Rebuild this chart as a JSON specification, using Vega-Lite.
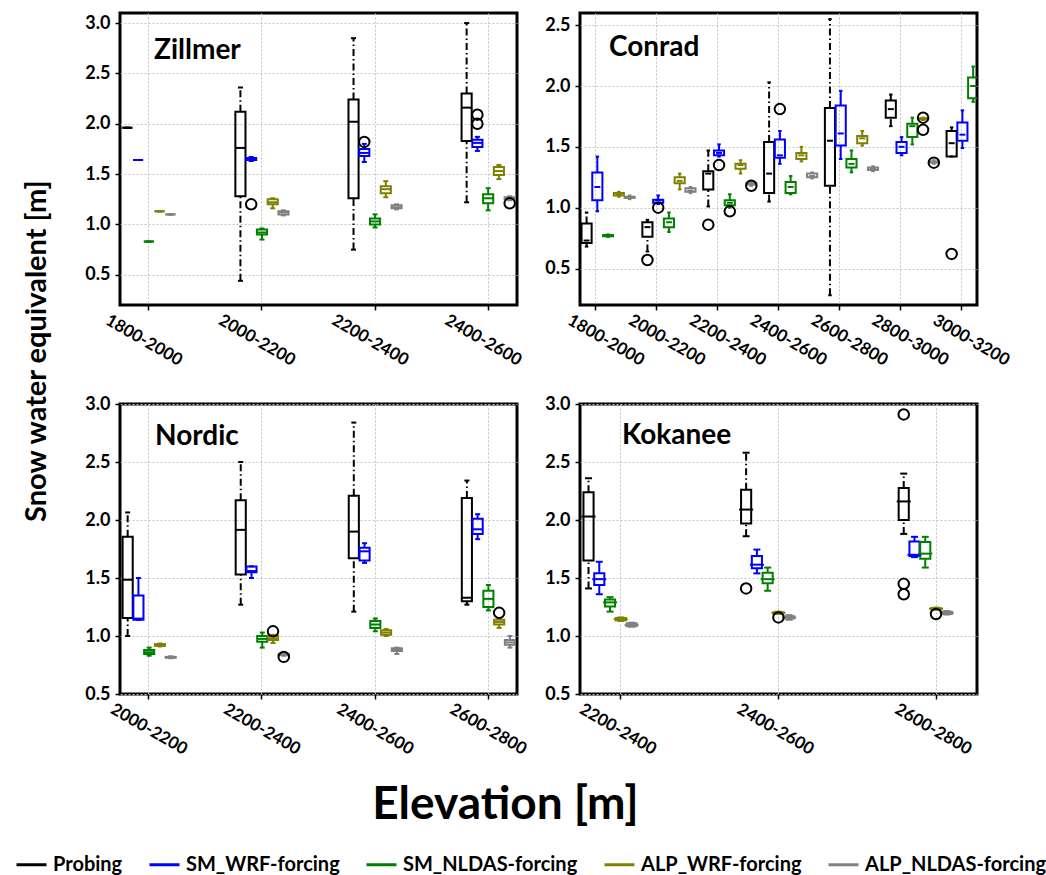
{
  "$schema": "https://vega.github.io/schema/vega-lite/v6.json",
  "padding": {"left": 15, "top": 11, "right": 0, "bottom": 0},
  "background": "white",
  "datasets": {
    "boxes": [
      {"site": "Zillmer", "band": "1800-2000", "series": "Probing", "lo": 1.96, "q1": 1.96, "med": 1.96, "q3": 1.96, "hi": 1.96},
      {"site": "Zillmer", "band": "1800-2000", "series": "SM_WRF-forcing", "lo": 1.64, "q1": 1.64, "med": 1.64, "q3": 1.64, "hi": 1.64},
      {"site": "Zillmer", "band": "1800-2000", "series": "SM_NLDAS-forcing", "lo": 0.83, "q1": 0.83, "med": 0.83, "q3": 0.83, "hi": 0.83},
      {"site": "Zillmer", "band": "1800-2000", "series": "ALP_WRF-forcing", "lo": 1.13, "q1": 1.13, "med": 1.13, "q3": 1.13, "hi": 1.13},
      {"site": "Zillmer", "band": "1800-2000", "series": "ALP_NLDAS-forcing", "lo": 1.1, "q1": 1.1, "med": 1.1, "q3": 1.1, "hi": 1.1},
      {"site": "Zillmer", "band": "2000-2200", "series": "Probing", "lo": 0.44, "q1": 1.28, "med": 1.76, "q3": 2.12, "hi": 2.36},
      {"site": "Zillmer", "band": "2000-2200", "series": "SM_WRF-forcing", "lo": 1.63, "q1": 1.64, "med": 1.65, "q3": 1.66, "hi": 1.67},
      {"site": "Zillmer", "band": "2000-2200", "series": "SM_NLDAS-forcing", "lo": 0.85, "q1": 0.9, "med": 0.92, "q3": 0.95, "hi": 0.96},
      {"site": "Zillmer", "band": "2000-2200", "series": "ALP_WRF-forcing", "lo": 1.16, "q1": 1.2, "med": 1.22, "q3": 1.25, "hi": 1.26},
      {"site": "Zillmer", "band": "2000-2200", "series": "ALP_NLDAS-forcing", "lo": 1.09, "q1": 1.1, "med": 1.12, "q3": 1.13, "hi": 1.14},
      {"site": "Zillmer", "band": "2200-2400", "series": "Probing", "lo": 0.75, "q1": 1.26, "med": 2.02, "q3": 2.24, "hi": 2.85},
      {"site": "Zillmer", "band": "2200-2400", "series": "SM_WRF-forcing", "lo": 1.62, "q1": 1.68, "med": 1.71, "q3": 1.75, "hi": 1.8},
      {"site": "Zillmer", "band": "2200-2400", "series": "SM_NLDAS-forcing", "lo": 0.97, "q1": 1.0, "med": 1.03, "q3": 1.06, "hi": 1.1},
      {"site": "Zillmer", "band": "2200-2400", "series": "ALP_WRF-forcing", "lo": 1.27, "q1": 1.31, "med": 1.35, "q3": 1.38, "hi": 1.43},
      {"site": "Zillmer", "band": "2200-2400", "series": "ALP_NLDAS-forcing", "lo": 1.15, "q1": 1.16, "med": 1.17, "q3": 1.19, "hi": 1.2},
      {"site": "Zillmer", "band": "2400-2600", "series": "Probing", "lo": 1.22, "q1": 1.83, "med": 2.16, "q3": 2.3, "hi": 3.0},
      {"site": "Zillmer", "band": "2400-2600", "series": "SM_WRF-forcing", "lo": 1.73, "q1": 1.77, "med": 1.81, "q3": 1.84, "hi": 1.87},
      {"site": "Zillmer", "band": "2400-2600", "series": "SM_NLDAS-forcing", "lo": 1.14, "q1": 1.21, "med": 1.26, "q3": 1.3, "hi": 1.36},
      {"site": "Zillmer", "band": "2400-2600", "series": "ALP_WRF-forcing", "lo": 1.45, "q1": 1.49, "med": 1.53, "q3": 1.57, "hi": 1.59},
      {"site": "Zillmer", "band": "2400-2600", "series": "ALP_NLDAS-forcing", "lo": 1.24, "q1": 1.25, "med": 1.26, "q3": 1.27, "hi": 1.28},

      {"site": "Conrad", "band": "1800-2000", "series": "Probing", "lo": 0.68, "q1": 0.71, "med": 0.73, "q3": 0.87, "hi": 0.96},
      {"site": "Conrad", "band": "1800-2000", "series": "SM_WRF-forcing", "lo": 0.97, "q1": 1.06, "med": 1.17, "q3": 1.29, "hi": 1.42},
      {"site": "Conrad", "band": "1800-2000", "series": "SM_NLDAS-forcing", "lo": 0.76, "q1": 0.765, "med": 0.77, "q3": 0.775, "hi": 0.78},
      {"site": "Conrad", "band": "1800-2000", "series": "ALP_WRF-forcing", "lo": 1.09, "q1": 1.1, "med": 1.11, "q3": 1.12, "hi": 1.13},
      {"site": "Conrad", "band": "1800-2000", "series": "ALP_NLDAS-forcing", "lo": 1.07, "q1": 1.08, "med": 1.085, "q3": 1.09, "hi": 1.1},
      {"site": "Conrad", "band": "2000-2200", "series": "Probing", "lo": 0.64, "q1": 0.76, "med": 0.84, "q3": 0.88, "hi": 0.9},
      {"site": "Conrad", "band": "2000-2200", "series": "SM_WRF-forcing", "lo": 1.03, "q1": 1.04, "med": 1.06, "q3": 1.065, "hi": 1.1},
      {"site": "Conrad", "band": "2000-2200", "series": "SM_NLDAS-forcing", "lo": 0.8, "q1": 0.84, "med": 0.88, "q3": 0.91, "hi": 0.96},
      {"site": "Conrad", "band": "2000-2200", "series": "ALP_WRF-forcing", "lo": 1.15, "q1": 1.2, "med": 1.22, "q3": 1.25, "hi": 1.28},
      {"site": "Conrad", "band": "2000-2200", "series": "ALP_NLDAS-forcing", "lo": 1.12, "q1": 1.13, "med": 1.14, "q3": 1.16, "hi": 1.17},
      {"site": "Conrad", "band": "2200-2400", "series": "Probing", "lo": 1.01, "q1": 1.15, "med": 1.28, "q3": 1.3, "hi": 1.47},
      {"site": "Conrad", "band": "2200-2400", "series": "SM_WRF-forcing", "lo": 1.42, "q1": 1.43, "med": 1.45, "q3": 1.47, "hi": 1.52},
      {"site": "Conrad", "band": "2200-2400", "series": "SM_NLDAS-forcing", "lo": 1.0, "q1": 1.02, "med": 1.04, "q3": 1.06, "hi": 1.11},
      {"site": "Conrad", "band": "2200-2400", "series": "ALP_WRF-forcing", "lo": 1.28, "q1": 1.32, "med": 1.35, "q3": 1.36, "hi": 1.39},
      {"site": "Conrad", "band": "2200-2400", "series": "ALP_NLDAS-forcing", "lo": 1.18, "q1": 1.19, "med": 1.195, "q3": 1.2, "hi": 1.21},
      {"site": "Conrad", "band": "2400-2600", "series": "Probing", "lo": 1.05, "q1": 1.12, "med": 1.28, "q3": 1.54, "hi": 2.03},
      {"site": "Conrad", "band": "2400-2600", "series": "SM_WRF-forcing", "lo": 1.36, "q1": 1.41, "med": 1.43, "q3": 1.56, "hi": 1.63},
      {"site": "Conrad", "band": "2400-2600", "series": "SM_NLDAS-forcing", "lo": 1.11, "q1": 1.12, "med": 1.17, "q3": 1.21, "hi": 1.26},
      {"site": "Conrad", "band": "2400-2600", "series": "ALP_WRF-forcing", "lo": 1.38, "q1": 1.4, "med": 1.43, "q3": 1.45, "hi": 1.5},
      {"site": "Conrad", "band": "2400-2600", "series": "ALP_NLDAS-forcing", "lo": 1.24, "q1": 1.25, "med": 1.26, "q3": 1.28, "hi": 1.29},
      {"site": "Conrad", "band": "2600-2800", "series": "Probing", "lo": 0.28, "q1": 1.18, "med": 1.55, "q3": 1.82, "hi": 2.55},
      {"site": "Conrad", "band": "2600-2800", "series": "SM_WRF-forcing", "lo": 1.4, "q1": 1.51, "med": 1.61, "q3": 1.84, "hi": 1.96},
      {"site": "Conrad", "band": "2600-2800", "series": "SM_NLDAS-forcing", "lo": 1.29, "q1": 1.33, "med": 1.36, "q3": 1.4, "hi": 1.47},
      {"site": "Conrad", "band": "2600-2800", "series": "ALP_WRF-forcing", "lo": 1.51, "q1": 1.53, "med": 1.57, "q3": 1.59, "hi": 1.63},
      {"site": "Conrad", "band": "2600-2800", "series": "ALP_NLDAS-forcing", "lo": 1.3, "q1": 1.31, "med": 1.32, "q3": 1.33, "hi": 1.34},
      {"site": "Conrad", "band": "2800-3000", "series": "Probing", "lo": 1.67, "q1": 1.74, "med": 1.81, "q3": 1.88, "hi": 1.93},
      {"site": "Conrad", "band": "2800-3000", "series": "SM_WRF-forcing", "lo": 1.43, "q1": 1.45, "med": 1.5, "q3": 1.54, "hi": 1.58},
      {"site": "Conrad", "band": "2800-3000", "series": "SM_NLDAS-forcing", "lo": 1.52, "q1": 1.58, "med": 1.67, "q3": 1.69, "hi": 1.74},
      {"site": "Conrad", "band": "2800-3000", "series": "ALP_WRF-forcing", "lo": 1.72, "q1": 1.725, "med": 1.73, "q3": 1.735, "hi": 1.74},
      {"site": "Conrad", "band": "2800-3000", "series": "ALP_NLDAS-forcing", "lo": 1.36, "q1": 1.37, "med": 1.375, "q3": 1.38, "hi": 1.39},
      {"site": "Conrad", "band": "3000-3200", "series": "Probing", "lo": 1.42, "q1": 1.42, "med": 1.53, "q3": 1.63, "hi": 1.66},
      {"site": "Conrad", "band": "3000-3200", "series": "SM_WRF-forcing", "lo": 1.49, "q1": 1.55, "med": 1.6, "q3": 1.7, "hi": 1.8},
      {"site": "Conrad", "band": "3000-3200", "series": "SM_NLDAS-forcing", "lo": 1.87, "q1": 1.9, "med": 2.0, "q3": 2.07, "hi": 2.16},
      {"site": "Conrad", "band": "3000-3200", "series": "ALP_WRF-forcing", "lo": 1.87, "q1": 1.87, "med": 1.87, "q3": 1.87, "hi": 1.87},
      {"site": "Conrad", "band": "3000-3200", "series": "ALP_NLDAS-forcing", "lo": 1.45, "q1": 1.46, "med": 1.47, "q3": 1.475, "hi": 1.48},

      {"site": "Nordic", "band": "2000-2200", "series": "Probing", "lo": 1.0, "q1": 1.155, "med": 1.485, "q3": 1.855, "hi": 2.065},
      {"site": "Nordic", "band": "2000-2200", "series": "SM_WRF-forcing", "lo": 1.14, "q1": 1.14, "med": 1.15, "q3": 1.35, "hi": 1.5},
      {"site": "Nordic", "band": "2000-2200", "series": "SM_NLDAS-forcing", "lo": 0.83, "q1": 0.845, "med": 0.86, "q3": 0.88, "hi": 0.9},
      {"site": "Nordic", "band": "2000-2200", "series": "ALP_WRF-forcing", "lo": 0.91, "q1": 0.915, "med": 0.922, "q3": 0.93, "hi": 0.935},
      {"site": "Nordic", "band": "2000-2200", "series": "ALP_NLDAS-forcing", "lo": 0.808, "q1": 0.812, "med": 0.816, "q3": 0.82, "hi": 0.825},
      {"site": "Nordic", "band": "2200-2400", "series": "Probing", "lo": 1.27, "q1": 1.53, "med": 1.915, "q3": 2.17, "hi": 2.5},
      {"site": "Nordic", "band": "2200-2400", "series": "SM_WRF-forcing", "lo": 1.5, "q1": 1.55, "med": 1.56, "q3": 1.6, "hi": 1.6},
      {"site": "Nordic", "band": "2200-2400", "series": "SM_NLDAS-forcing", "lo": 0.9, "q1": 0.95, "med": 0.975, "q3": 1.0, "hi": 1.03},
      {"site": "Nordic", "band": "2200-2400", "series": "ALP_WRF-forcing", "lo": 0.94, "q1": 0.965, "med": 0.98, "q3": 1.0, "hi": 1.01},
      {"site": "Nordic", "band": "2200-2400", "series": "ALP_NLDAS-forcing", "lo": 0.83, "q1": 0.835, "med": 0.84, "q3": 0.845, "hi": 0.85},
      {"site": "Nordic", "band": "2400-2600", "series": "Probing", "lo": 1.21, "q1": 1.67, "med": 1.9, "q3": 2.21, "hi": 2.84},
      {"site": "Nordic", "band": "2400-2600", "series": "SM_WRF-forcing", "lo": 1.63, "q1": 1.65, "med": 1.73, "q3": 1.76, "hi": 1.8},
      {"site": "Nordic", "band": "2400-2600", "series": "SM_NLDAS-forcing", "lo": 1.04, "q1": 1.07, "med": 1.1, "q3": 1.13, "hi": 1.15},
      {"site": "Nordic", "band": "2400-2600", "series": "ALP_WRF-forcing", "lo": 1.0, "q1": 1.01, "med": 1.03, "q3": 1.05, "hi": 1.06},
      {"site": "Nordic", "band": "2400-2600", "series": "ALP_NLDAS-forcing", "lo": 0.845, "q1": 0.87, "med": 0.88, "q3": 0.895, "hi": 0.9},
      {"site": "Nordic", "band": "2600-2800", "series": "Probing", "lo": 1.27, "q1": 1.3, "med": 1.33, "q3": 2.19, "hi": 2.34},
      {"site": "Nordic", "band": "2600-2800", "series": "SM_WRF-forcing", "lo": 1.835, "q1": 1.88, "med": 1.92, "q3": 2.01, "hi": 2.05},
      {"site": "Nordic", "band": "2600-2800", "series": "SM_NLDAS-forcing", "lo": 1.22, "q1": 1.25, "med": 1.32, "q3": 1.39, "hi": 1.44},
      {"site": "Nordic", "band": "2600-2800", "series": "ALP_WRF-forcing", "lo": 1.07, "q1": 1.1, "med": 1.12, "q3": 1.14, "hi": 1.15},
      {"site": "Nordic", "band": "2600-2800", "series": "ALP_NLDAS-forcing", "lo": 0.9, "q1": 0.925, "med": 0.945, "q3": 0.965, "hi": 1.0},

      {"site": "Kokanee", "band": "2200-2400", "series": "Probing", "lo": 1.41, "q1": 1.65, "med": 2.03, "q3": 2.24, "hi": 2.36},
      {"site": "Kokanee", "band": "2200-2400", "series": "SM_WRF-forcing", "lo": 1.36, "q1": 1.44, "med": 1.49, "q3": 1.54, "hi": 1.64},
      {"site": "Kokanee", "band": "2200-2400", "series": "SM_NLDAS-forcing", "lo": 1.21, "q1": 1.255, "med": 1.29, "q3": 1.315, "hi": 1.335},
      {"site": "Kokanee", "band": "2200-2400", "series": "ALP_WRF-forcing", "lo": 1.13, "q1": 1.135, "med": 1.145, "q3": 1.155, "hi": 1.16},
      {"site": "Kokanee", "band": "2200-2400", "series": "ALP_NLDAS-forcing", "lo": 1.08, "q1": 1.085, "med": 1.095, "q3": 1.11, "hi": 1.115},
      {"site": "Kokanee", "band": "2400-2600", "series": "Probing", "lo": 1.86, "q1": 1.97, "med": 2.09, "q3": 2.26, "hi": 2.58},
      {"site": "Kokanee", "band": "2400-2600", "series": "SM_WRF-forcing", "lo": 1.54, "q1": 1.585, "med": 1.615, "q3": 1.69, "hi": 1.745},
      {"site": "Kokanee", "band": "2400-2600", "series": "SM_NLDAS-forcing", "lo": 1.39, "q1": 1.455, "med": 1.49, "q3": 1.545, "hi": 1.59},
      {"site": "Kokanee", "band": "2400-2600", "series": "ALP_WRF-forcing", "lo": 1.19, "q1": 1.195, "med": 1.2, "q3": 1.205, "hi": 1.21},
      {"site": "Kokanee", "band": "2400-2600", "series": "ALP_NLDAS-forcing", "lo": 1.14, "q1": 1.15, "med": 1.16, "q3": 1.17, "hi": 1.18},
      {"site": "Kokanee", "band": "2600-2800", "series": "Probing", "lo": 1.88, "q1": 2.0, "med": 2.16, "q3": 2.275, "hi": 2.4},
      {"site": "Kokanee", "band": "2600-2800", "series": "SM_WRF-forcing", "lo": 1.68, "q1": 1.69, "med": 1.7, "q3": 1.815, "hi": 1.855},
      {"site": "Kokanee", "band": "2600-2800", "series": "SM_NLDAS-forcing", "lo": 1.59, "q1": 1.665, "med": 1.71, "q3": 1.81, "hi": 1.855},
      {"site": "Kokanee", "band": "2600-2800", "series": "ALP_WRF-forcing", "lo": 1.225, "q1": 1.23, "med": 1.235, "q3": 1.24, "hi": 1.245},
      {"site": "Kokanee", "band": "2600-2800", "series": "ALP_NLDAS-forcing", "lo": 1.185, "q1": 1.19, "med": 1.2, "q3": 1.21, "hi": 1.215}
    ],
    "outliers": [
      {"site": "Zillmer", "band": "2000-2200", "series": "SM_WRF-forcing", "value": 1.2},
      {"site": "Zillmer", "band": "2200-2400", "series": "SM_WRF-forcing", "value": 1.82},
      {"site": "Zillmer", "band": "2400-2600", "series": "SM_WRF-forcing", "value": 2.09},
      {"site": "Zillmer", "band": "2400-2600", "series": "SM_WRF-forcing", "value": 2.0},
      {"site": "Zillmer", "band": "2400-2600", "series": "ALP_NLDAS-forcing", "value": 1.21},
      {"site": "Conrad", "band": "2000-2200", "series": "Probing", "value": 0.57},
      {"site": "Conrad", "band": "2000-2200", "series": "SM_WRF-forcing", "value": 1.0},
      {"site": "Conrad", "band": "2200-2400", "series": "Probing", "value": 0.86},
      {"site": "Conrad", "band": "2200-2400", "series": "SM_WRF-forcing", "value": 1.35},
      {"site": "Conrad", "band": "2200-2400", "series": "SM_NLDAS-forcing", "value": 0.97},
      {"site": "Conrad", "band": "2200-2400", "series": "ALP_NLDAS-forcing", "value": 1.18},
      {"site": "Conrad", "band": "2400-2600", "series": "SM_WRF-forcing", "value": 1.81},
      {"site": "Conrad", "band": "2800-3000", "series": "ALP_WRF-forcing", "value": 1.74},
      {"site": "Conrad", "band": "2800-3000", "series": "ALP_WRF-forcing", "value": 1.64},
      {"site": "Conrad", "band": "2800-3000", "series": "ALP_NLDAS-forcing", "value": 1.37},
      {"site": "Conrad", "band": "3000-3200", "series": "Probing", "value": 0.62},
      {"site": "Conrad", "band": "3000-3200", "series": "ALP_WRF-forcing", "value": 1.79},
      {"site": "Nordic", "band": "2200-2400", "series": "ALP_WRF-forcing", "value": 1.04},
      {"site": "Nordic", "band": "2200-2400", "series": "ALP_NLDAS-forcing", "value": 0.82},
      {"site": "Nordic", "band": "2600-2800", "series": "ALP_WRF-forcing", "value": 1.2},
      {"site": "Kokanee", "band": "2400-2600", "series": "Probing", "value": 1.41},
      {"site": "Kokanee", "band": "2400-2600", "series": "ALP_WRF-forcing", "value": 1.16},
      {"site": "Kokanee", "band": "2600-2800", "series": "Probing", "value": 2.91},
      {"site": "Kokanee", "band": "2600-2800", "series": "Probing", "value": 1.45},
      {"site": "Kokanee", "band": "2600-2800", "series": "Probing", "value": 1.36},
      {"site": "Kokanee", "band": "2600-2800", "series": "ALP_WRF-forcing", "value": 1.19}
    ]
  },
  "title": {
    "text": "Snow water equivalent [m]", "orient": "left", "anchor": "middle",
    "fontSize": 29, "offset": -37, "dx": 92
  },
  "spacing": 16,
  "vconcat": [
    {
      "spacing": 14,
      "hconcat": [
        {
          "width": 397,
          "height": 292,
          "title": {"text": "Zillmer", "anchor": "start", "frame": "group", "baseline": "alphabetic", "offset": -74, "dx": 34, "fontSize": 28},
          "encoding": {
            "x": {"field": "band", "type": "nominal", "sort": null,
                  "scale": {"paddingInner": 0.53, "paddingOuter": 0.02},
                  "axis": {"title": null, "labelOffset": -5}},
            "xOffset": {"field": "series", "type": "nominal", "sort": null,
                        "scale": {"domain": ["Probing", "SM_WRF-forcing", "SM_NLDAS-forcing", "ALP_WRF-forcing", "ALP_NLDAS-forcing"], "paddingInner": 0.06}},
            "color": {"field": "series", "type": "nominal",
                      "scale": {"domain": ["Probing", "SM_WRF-forcing", "SM_NLDAS-forcing", "ALP_WRF-forcing", "ALP_NLDAS-forcing"],
                                "range": ["#000000", "#0000ff", "#008000", "#808000", "#808080"]}}
          },
          "layer": [
            {
              "data": {"name": "boxes"},
              "transform": [{"filter": "datum.site === 'Zillmer'"}],
              "layer": [
                {"mark": {"type": "rule", "strokeWidth": 2, "clip": true},
                 "encoding": {
                   "y": {"field": "lo", "type": "quantitative", "scale": {"domain": [0.2, 3.1], "nice": false, "zero": false},
                         "axis": {"title": null, "values": [0.5, 1, 1.5, 2, 2.5, 3], "format": ".1f"}},
                   "y2": {"field": "q1"},
                   "strokeDash": {"condition": {"test": "datum.series === 'Probing'", "value": [7, 3, 1.5, 3]}, "value": [1, 0]}}},
                {"mark": {"type": "rule", "strokeWidth": 2, "clip": true},
                 "encoding": {"y": {"field": "q3", "type": "quantitative"}, "y2": {"field": "hi"},
                   "strokeDash": {"condition": {"test": "datum.series === 'Probing'", "value": [7, 3, 1.5, 3]}, "value": [1, 0]}}},
                {"mark": {"type": "bar", "filled": false, "strokeWidth": 2, "opacity": 1, "clip": true},
                 "encoding": {"y": {"field": "q1", "type": "quantitative"}, "y2": {"field": "q3"}}},
                {"mark": {"type": "tick", "orient": "horizontal", "thickness": 2, "size": 10, "opacity": 1, "clip": true},
                 "encoding": {"y": {"field": "med", "type": "quantitative"}}},
                {"mark": {"type": "tick", "orient": "horizontal", "thickness": 2, "size": 5, "opacity": 1, "clip": true},
                 "encoding": {"y": {"field": "lo", "type": "quantitative"}}},
                {"mark": {"type": "tick", "orient": "horizontal", "thickness": 2, "size": 5, "opacity": 1, "clip": true},
                 "encoding": {"y": {"field": "hi", "type": "quantitative"}}}
              ]
            },
            {
              "data": {"name": "outliers"},
              "transform": [{"filter": "datum.site === 'Zillmer'"}],
              "mark": {"type": "point", "shape": "circle", "filled": false, "strokeWidth": 2, "size": 110, "opacity": 1, "clip": true},
              "encoding": {"y": {"field": "value", "type": "quantitative"}, "color": {"value": "black"}}
            }
          ]
        },
        {
          "width": 397,
          "height": 292,
          "title": {"text": "Conrad", "anchor": "start", "frame": "group", "baseline": "alphabetic", "offset": -71, "dx": 29, "fontSize": 28},
          "encoding": {
            "x": {"field": "band", "type": "nominal", "sort": null,
                  "scale": {"paddingInner": 0.525, "paddingOuter": 0.025},
                  "axis": {"title": null, "labelOffset": 10}},
            "xOffset": {"field": "series", "type": "nominal", "sort": null,
                        "scale": {"domain": ["Probing", "SM_WRF-forcing", "SM_NLDAS-forcing", "ALP_WRF-forcing", "ALP_NLDAS-forcing"], "paddingInner": 0.0}},
            "color": {"field": "series", "type": "nominal",
                      "scale": {"domain": ["Probing", "SM_WRF-forcing", "SM_NLDAS-forcing", "ALP_WRF-forcing", "ALP_NLDAS-forcing"],
                                "range": ["#000000", "#0000ff", "#008000", "#808000", "#808080"]}}
          },
          "layer": [
            {
              "data": {"name": "boxes"},
              "transform": [{"filter": "datum.site === 'Conrad'"}],
              "layer": [
                {"mark": {"type": "rule", "strokeWidth": 2, "clip": true},
                 "encoding": {
                   "y": {"field": "lo", "type": "quantitative", "scale": {"domain": [0.2, 2.6], "nice": false, "zero": false},
                         "axis": {"title": null, "values": [0.5, 1, 1.5, 2, 2.5], "format": ".1f"}},
                   "y2": {"field": "q1"},
                   "strokeDash": {"condition": {"test": "datum.series === 'Probing'", "value": [7, 3, 1.5, 3]}, "value": [1, 0]}}},
                {"mark": {"type": "rule", "strokeWidth": 2, "clip": true},
                 "encoding": {"y": {"field": "q3", "type": "quantitative"}, "y2": {"field": "hi"},
                   "strokeDash": {"condition": {"test": "datum.series === 'Probing'", "value": [7, 3, 1.5, 3]}, "value": [1, 0]}}},
                {"mark": {"type": "bar", "filled": false, "strokeWidth": 2, "opacity": 1, "clip": true},
                 "encoding": {"y": {"field": "q1", "type": "quantitative"}, "y2": {"field": "q3"}}},
                {"mark": {"type": "tick", "orient": "horizontal", "thickness": 2, "size": 6, "opacity": 1, "clip": true},
                 "encoding": {"y": {"field": "med", "type": "quantitative"}}},
                {"mark": {"type": "tick", "orient": "horizontal", "thickness": 2, "size": 3.5, "opacity": 1, "clip": true},
                 "encoding": {"y": {"field": "lo", "type": "quantitative"}}},
                {"mark": {"type": "tick", "orient": "horizontal", "thickness": 2, "size": 3.5, "opacity": 1, "clip": true},
                 "encoding": {"y": {"field": "hi", "type": "quantitative"}}}
              ]
            },
            {
              "data": {"name": "outliers"},
              "transform": [{"filter": "datum.site === 'Conrad'"}],
              "mark": {"type": "point", "shape": "circle", "filled": false, "strokeWidth": 2, "size": 110, "opacity": 1, "clip": true},
              "encoding": {"y": {"field": "value", "type": "quantitative"}, "color": {"value": "black"}}
            }
          ]
        }
      ]
    },
    {
      "spacing": 9,
      "title": {"text": "Elevation [m]", "orient": "bottom", "anchor": "middle", "fontSize": 46, "offset": 17, "dx": -24},
      "hconcat": [
        {
          "width": 397,
          "height": 290,
          "title": {"text": "Nordic", "anchor": "start", "frame": "group", "baseline": "alphabetic", "offset": -78, "dx": 35, "fontSize": 28},
          "encoding": {
            "x": {"field": "band", "type": "nominal", "sort": null,
                  "scale": {"paddingInner": 0.535, "paddingOuter": 0.023},
                  "axis": {"title": null, "labelOffset": 0}},
            "xOffset": {"field": "series", "type": "nominal", "sort": null,
                        "scale": {"domain": ["Probing", "SM_WRF-forcing", "SM_NLDAS-forcing", "ALP_WRF-forcing", "ALP_NLDAS-forcing"], "paddingInner": 0.06}},
            "color": {"field": "series", "type": "nominal",
                      "scale": {"domain": ["Probing", "SM_WRF-forcing", "SM_NLDAS-forcing", "ALP_WRF-forcing", "ALP_NLDAS-forcing"],
                                "range": ["#000000", "#0000ff", "#008000", "#808000", "#808080"]}}
          },
          "layer": [
            {
              "data": {"name": "boxes"},
              "transform": [{"filter": "datum.site === 'Nordic'"}],
              "layer": [
                {"mark": {"type": "rule", "strokeWidth": 2, "clip": true},
                 "encoding": {
                   "y": {"field": "lo", "type": "quantitative", "scale": {"domain": [0.5, 3.0], "nice": false, "zero": false},
                         "axis": {"title": null, "values": [0.5, 1, 1.5, 2, 2.5, 3], "format": ".1f"}},
                   "y2": {"field": "q1"},
                   "strokeDash": {"condition": {"test": "datum.series === 'Probing'", "value": [7, 3, 1.5, 3]}, "value": [1, 0]}}},
                {"mark": {"type": "rule", "strokeWidth": 2, "clip": true},
                 "encoding": {"y": {"field": "q3", "type": "quantitative"}, "y2": {"field": "hi"},
                   "strokeDash": {"condition": {"test": "datum.series === 'Probing'", "value": [7, 3, 1.5, 3]}, "value": [1, 0]}}},
                {"mark": {"type": "bar", "filled": false, "strokeWidth": 2, "opacity": 1, "clip": true},
                 "encoding": {"y": {"field": "q1", "type": "quantitative"}, "y2": {"field": "q3"}}},
                {"mark": {"type": "tick", "orient": "horizontal", "thickness": 2, "size": 10, "opacity": 1, "clip": true},
                 "encoding": {"y": {"field": "med", "type": "quantitative"}}},
                {"mark": {"type": "tick", "orient": "horizontal", "thickness": 2, "size": 5, "opacity": 1, "clip": true},
                 "encoding": {"y": {"field": "lo", "type": "quantitative"}}},
                {"mark": {"type": "tick", "orient": "horizontal", "thickness": 2, "size": 5, "opacity": 1, "clip": true},
                 "encoding": {"y": {"field": "hi", "type": "quantitative"}}}
              ]
            },
            {
              "data": {"name": "outliers"},
              "transform": [{"filter": "datum.site === 'Nordic'"}],
              "mark": {"type": "point", "shape": "circle", "filled": false, "strokeWidth": 2, "size": 110, "opacity": 1, "clip": true},
              "encoding": {"y": {"field": "value", "type": "quantitative"}, "color": {"value": "black"}}
            }
          ]
        },
        {
          "width": 397,
          "height": 290,
          "title": {"text": "Kokanee", "anchor": "start", "frame": "group", "baseline": "alphabetic", "offset": -77, "dx": 42, "fontSize": 28},
          "encoding": {
            "x": {"field": "band", "type": "nominal", "sort": null,
                  "scale": {"paddingInner": 0.525, "paddingOuter": 0.022},
                  "axis": {"title": null, "labelOffset": -3}},
            "xOffset": {"field": "series", "type": "nominal", "sort": null,
                        "scale": {"domain": ["Probing", "SM_WRF-forcing", "SM_NLDAS-forcing", "ALP_WRF-forcing", "ALP_NLDAS-forcing"], "paddingInner": 0.06}},
            "color": {"field": "series", "type": "nominal",
                      "scale": {"domain": ["Probing", "SM_WRF-forcing", "SM_NLDAS-forcing", "ALP_WRF-forcing", "ALP_NLDAS-forcing"],
                                "range": ["#000000", "#0000ff", "#008000", "#808000", "#808080"]}}
          },
          "layer": [
            {
              "data": {"name": "boxes"},
              "transform": [{"filter": "datum.site === 'Kokanee'"}],
              "layer": [
                {"mark": {"type": "rule", "strokeWidth": 2, "clip": true},
                 "encoding": {
                   "y": {"field": "lo", "type": "quantitative", "scale": {"domain": [0.5, 3.0], "nice": false, "zero": false},
                         "axis": {"title": null, "values": [0.5, 1, 1.5, 2, 2.5, 3], "format": ".1f"}},
                   "y2": {"field": "q1"},
                   "strokeDash": {"condition": {"test": "datum.series === 'Probing'", "value": [7, 3, 1.5, 3]}, "value": [1, 0]}}},
                {"mark": {"type": "rule", "strokeWidth": 2, "clip": true},
                 "encoding": {"y": {"field": "q3", "type": "quantitative"}, "y2": {"field": "hi"},
                   "strokeDash": {"condition": {"test": "datum.series === 'Probing'", "value": [7, 3, 1.5, 3]}, "value": [1, 0]}}},
                {"mark": {"type": "bar", "filled": false, "strokeWidth": 2, "opacity": 1, "clip": true},
                 "encoding": {"y": {"field": "q1", "type": "quantitative"}, "y2": {"field": "q3"}}},
                {"mark": {"type": "tick", "orient": "horizontal", "thickness": 2, "size": 14, "opacity": 1, "clip": true},
                 "encoding": {"y": {"field": "med", "type": "quantitative"}}},
                {"mark": {"type": "tick", "orient": "horizontal", "thickness": 2, "size": 7, "opacity": 1, "clip": true},
                 "encoding": {"y": {"field": "lo", "type": "quantitative"}}},
                {"mark": {"type": "tick", "orient": "horizontal", "thickness": 2, "size": 7, "opacity": 1, "clip": true},
                 "encoding": {"y": {"field": "hi", "type": "quantitative"}}}
              ]
            },
            {
              "data": {"name": "outliers"},
              "transform": [{"filter": "datum.site === 'Kokanee'"}],
              "mark": {"type": "point", "shape": "circle", "filled": false, "strokeWidth": 2, "size": 110, "opacity": 1, "clip": true},
              "encoding": {"y": {"field": "value", "type": "quantitative"}, "color": {"value": "black"}}
            }
          ]
        }
      ]
    }
  ],
  "config": {
    "font": "Lato",
    "view": {"stroke": "black", "strokeWidth": 3},
    "title": {"font": "Lato", "fontWeight": "bold", "color": "black"},
    "axis": {
      "labelFont": "Lato", "labelFontWeight": "bold", "labelFontSize": 17, "labelColor": "black",
      "domain": false, "ticks": true, "tickColor": "black", "tickWidth": 1.5, "tickSize": 5,
      "grid": true, "gridColor": "#c4c4c4", "gridDash": [2, 2], "gridWidth": 1
    },
    "axisY": {"labelPadding": 5, "labelFontSize": 18, "minExtent": 38, "maxExtent": 38},
    "axisX": {"labelAngle": 30, "labelAlign": "center", "labelBaseline": "middle", "labelPadding": 30,
              "labelOverlap": false, "minExtent": 70, "maxExtent": 70},
    "legend": {
      "orient": "none", "direction": "horizontal", "legendX": -105, "legendY": 835,
      "title": null, "symbolType": "stroke", "symbolStrokeWidth": 3, "symbolSize": 900,
      "labelFont": "Lato", "labelFontWeight": "bold", "labelFontSize": 20, "labelColor": "black",
      "labelLimit": 400, "columnPadding": 20, "labelOffset": 5
    }
  }
}
